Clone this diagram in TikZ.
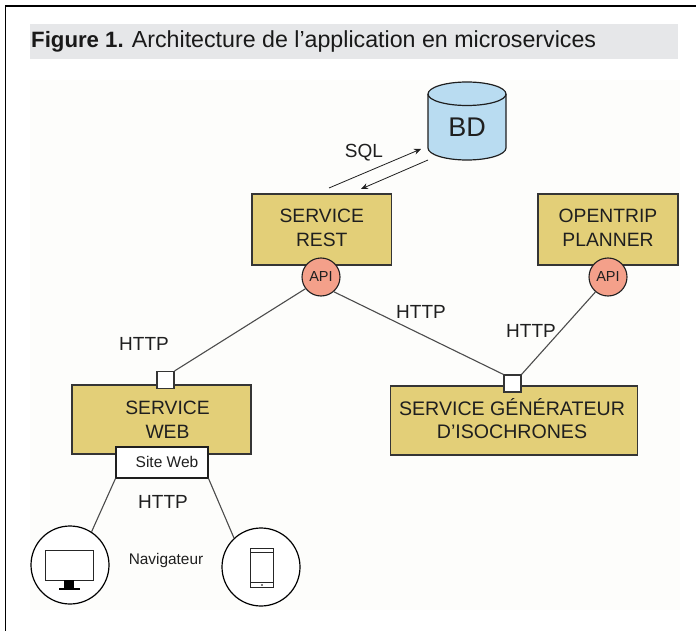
\documentclass[tikz,border=0pt]{standalone}
\usepackage{fontspec}
\setmainfont{Liberation Sans}
\usetikzlibrary{arrows.meta}
\definecolor{boxfill}{HTML}{E3CF78}
\definecolor{apifill}{HTML}{F4A08A}
\definecolor{dbfill}{HTML}{B9DCF1}
\definecolor{band}{HTML}{E6E7E9}
\definecolor{paper}{HTML}{FDFDFB}
\definecolor{ink}{HTML}{1F1F1F}
\newcommand{\lift}{\rule[-4pt]{0pt}{4pt}}
\tikzset{
  svc/.style={draw=ink!90,line width=1.5pt,fill=boxfill,text=ink,align=center,font=\fontsize{19.3}{24}\selectfont,inner sep=0pt},
  api/.style={circle,draw=ink,line width=1.1pt,fill=apifill,text=ink,minimum size=38pt,inner sep=0pt,font=\fontsize{14.5}{16}\selectfont},
  port/.style={draw=ink!90,line width=1.1pt,fill=white,minimum size=17pt,inner sep=0pt},
  lbl/.style={text=ink,font=\fontsize{19}{23}\selectfont,inner sep=0pt},
  link/.style={draw=ink!80,line width=1.1pt},
  device/.style={circle,draw=black,line width=1.2pt,fill=white,minimum size=78pt,inner sep=0pt},
  glyph/.style={draw=black!85,line width=.9pt,fill=white},
  flow/.style={draw=ink,line width=.8pt,-{Stealth[length=7pt,width=6pt]}}
}
\begin{document}
\begin{tikzpicture}[x=1pt,y=-1pt]
\useasboundingbox (0,0) rectangle (696,631);
\fill[white] (0,0) rectangle (696,631);
\draw[black,line width=1.2pt] (5.5,631) -- (5.5,6) -- (696,6);
\fill[band] (30,24) rectangle (678,59);
\node[anchor=west,inner sep=0pt,text=black!90] (title) at (31,41.5) {\fontsize{22.2}{26}\selectfont\textbf{Figure 1.} \fontsize{23.2}{26}\selectfont Architecture de l’application en microservices};
\fill[paper] (30,80) rectangle (680,610);

% database
\path[fill=dbfill,draw=ink,line width=1.2pt] (428,94) -- (428,148) arc[start angle=180,end angle=0,x radius=39,y radius=12] -- (506,94) arc[start angle=0,end angle=-180,x radius=39,y radius=12] -- cycle;
\draw[ink,line width=1.2pt] (428,94) arc[start angle=180,end angle=0,x radius=39,y radius=11.5];
\node[lbl,font=\fontsize{27}{30}\selectfont] (bd) at (467,127) {BD};
\coordinate (sqlfrom) at (329,188);
\coordinate (sqlto) at (421,149);
\coordinate (resfrom) at (428,160);
\coordinate (resto) at (361,189);
\draw[flow] (sqlfrom) -- (sqlto);
\draw[flow] (resfrom) -- (resto);
\node[lbl] (sql) at (364,153) {SQL};

% services
\node[svc,minimum width=139.5pt,minimum height=71pt] (rest) at (321.75,229.5) {SERVICE\\REST\lift};
\node[svc,minimum width=140pt,minimum height=71pt] (otp) at (608,229.5) {OPENTRIP\\PLANNER\lift};
\node[svc,minimum width=179pt,minimum height=69pt] (web) at (161.5,419.5) {\hspace*{12pt}SERVICE\\\hspace*{12pt}WEB};
\node[svc,minimum width=247pt,minimum height=69pt,font=\fontsize{19.6}{23.5}\selectfont] (gen) at (514,420.5) {SERVICE GÉNÉRATEUR\hspace*{4pt}\\D’ISOCHRONES\hspace*{4pt}\lift};
\node[api] (apirest) at (321,277) {API};
\node[api] (apiotp) at (608,277) {API};
\node[port] (pweb) at (165.5,380) {};
\node[port] (pgen) at (512.5,383.5) {};
\node[draw=ink,line width=1.1pt,fill=white,minimum width=92pt,minimum height=31pt,inner sep=0pt] (site) at (162,462.5) {};
\node[text=ink,inner sep=0pt,font=\fontsize{15.5}{18}\selectfont] (sitelabel) at (167,462) {Site Web};

% devices
\node[device] (pc) at (70,565) {};
\node[device] (tab) at (261,567) {};
\draw[glyph] (45.5,550.5) rectangle (93.5,580);
\fill[black] (64,580) rectangle (74,588);
\draw[black,line width=1.6pt] (59,589) -- (80,589);
\draw[glyph] (250.5,548) rectangle (273.5,587.5);
\draw[black!85,line width=.9pt] (250.5,552.7) -- (273.5,552.7) (250.5,582.7) -- (273.5,582.7);
\fill[black] (262,585) circle[radius=.9];

% links
\draw[link] (apirest.-143) -- (pweb.north east);
\draw[link] (apirest.-49) -- (pgen.north west);
\draw[link] (apiotp.-130) -- (pgen.north east);
\draw[link] (site.south west) -- (pc.57);
\draw[link] (site.south east) -- (tab.133);
\node[lbl] (h1) at (144,344) {HTTP};
\node[lbl] (h2) at (421,312) {HTTP};
\node[lbl] (h3) at (531,331) {HTTP};
\node[lbl] (h4) at (163,502) {HTTP};
\node[text=ink,inner sep=0pt,font=\fontsize{15.4}{18}\selectfont] (nav) at (166,561) {Navigateur};
\end{tikzpicture}
\end{document}
